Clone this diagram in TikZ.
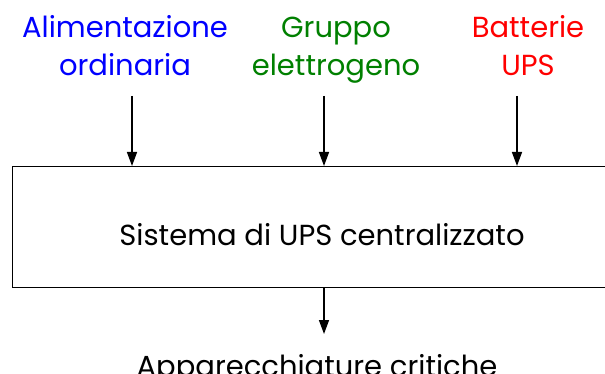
\documentclass[tikz,border=0pt]{standalone}
\usepackage{fontspec}
\setmainfont{Poppins}
\usetikzlibrary{arrows.meta}
\definecolor{cblue}{RGB}{0,0,255}
\definecolor{cgreen}{RGB}{0,128,0}
\definecolor{cred}{RGB}{255,0,0}
\begin{document}
\begin{tikzpicture}[x=1pt,y=-1pt,
  lbl/.style={font=\fontsize{29}{38}\selectfont, align=center, inner sep=0pt},
  conn/.style={line width=1.4pt, -{Triangle[length=14pt,width=10pt]}}]
\useasboundingbox (0,0) rectangle (605,374);
\fill[white] (0,0) rectangle (605,374);
\node[lbl, text=cblue, anchor=base] (l1) at (125,76) {Alimentazione\\ordinaria};
\node[lbl, text=cgreen, anchor=base] (l2) at (336,76) {Gruppo\\elettrogeno};
\node[lbl, text=cred, anchor=base] (l3) at (528,76) {Batterie\\UPS};
\node[draw, line width=1pt, minimum width=620pt, minimum height=121pt, inner sep=0pt, anchor=north west] (box) at (12,166) {};
\node[lbl, anchor=base] (t) at (322,246) {Sistema di UPS centralizzato};
\node[lbl, anchor=base] (out) at (317,376) {Apparecchiature critiche};
\coordinate (s1) at (132,96);
\coordinate (s2) at (324,96);
\coordinate (s3) at (517,96);
\draw[conn] (s1) -- (s1 |- box.north);
\draw[conn] (s2) -- (s2 |- box.north);
\draw[conn] (s3) -- (s3 |- box.north);
\coordinate (e) at (324,334);
\draw[conn] (e |- box.south) -- (e);
\end{tikzpicture}
\end{document}
